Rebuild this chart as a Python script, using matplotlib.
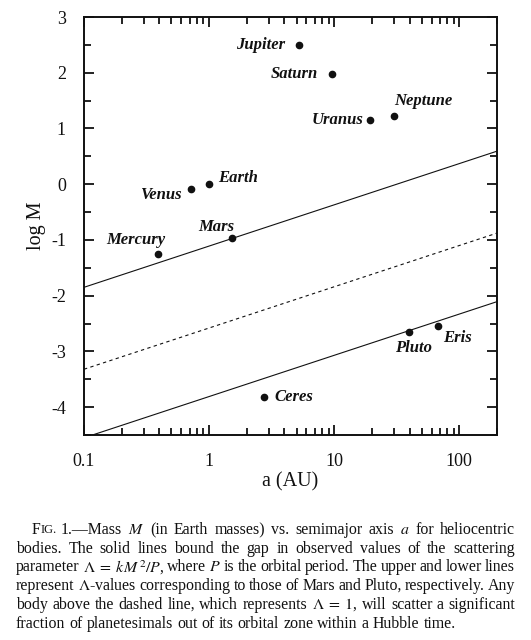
import matplotlib
matplotlib.use("Agg")
import numpy as np
from matplotlib import pyplot as plt
from matplotlib.ticker import LogLocator, MultipleLocator, NullFormatter, FixedLocator

plt.rcParams['font.family'] = ['Liberation Serif', 'DejaVu Serif']
plt.rcParams['mathtext.fontset'] = 'stix'
plt.rcParams['axes.unicode_minus'] = False

# bodies: semimajor axis (AU) and log10 of mass (Earth masses)
names = ["Mercury", "Venus", "Earth", "Mars", "Jupiter", "Saturn",
         "Uranus", "Neptune", "Ceres", "Pluto", "Eris"]
a_au = [0.387, 0.723, 1.0, 1.524, 5.20, 9.54, 19.2, 30.1, 2.77, 39.5, 67.7]
log_m = [-1.26, -0.09, 0.0, -0.97, 2.50, 1.98, 1.16, 1.23, -3.82, -2.66, -2.55]

# constant-Lambda lines, log M = c + slope*log a (upper: Mars, dashed: Lambda=1, lower: Pluto)
slope = 0.74
line_logm_1au = [-1.11, -2.58, -3.81]
line_styles = ["solid", "dashed", "solid"]

xticks = [0.1, 1, 10, 100]
xtick_labels = ["0.1", "1", "10", "100"]
yticks = [-4, -3, -2, -1, 0, 1, 2, 3]

caption_lines = [
    "1.\u2014Mass $M$ (in Earth masses) vs. semimajor axis $a$ for heliocentric",
    "bodies. The solid lines bound the gap in observed values of the scattering",
    "parameter $\\Lambda\\;=\\;kM^{\\,2}/P$, where $P$ is the orbital period. The upper and lower lines",
    "represent $\\Lambda$-values corresponding to those of Mars and Pluto, respectively. Any",
    "body above the dashed line, which represents $\\Lambda\\;=\\;1$, will scatter a significant",
    "fraction of planetesimals out of its orbital zone within a Hubble time.",
]

# label placement (pixel offsets from the dot, alignment)
label_pos = {
    "Mercury": (-22, 6, "center", "bottom"),
    "Venus":   (-10, -6, "right", "center"),
    "Earth":   (9, 6, "left", "center"),
    "Mars":    (-16, 3, "center", "bottom"),
    "Jupiter": (-14, 0, "right", "center"),
    "Saturn":  (-14, 0, "right", "center"),
    "Uranus":  (-6, 0, "right", "center"),
    "Neptune": (0, 7, "left", "bottom"),
    "Ceres":   (10, 0, "left", "center"),
    "Pluto":   (5, -8, "center", "top"),
    "Eris":    (5, -4, "left", "top"),
}

W, H = 531, 640
fig = plt.figure(figsize=(W / 100, H / 100), dpi=100)
ax = fig.add_axes([84 / W, 1 - 435 / H, 413 / W, 418 / H])

ink = "#111111"
xs = np.logspace(-1, np.log10(200), 50)
for c, st in zip(line_logm_1au, line_styles):
    ls = (0, (3, 3)) if st == "dashed" else "-"
    ax.plot(xs, c + slope * np.log10(xs), color=ink, lw=0.8, ls=ls)

ax.plot(a_au, log_m, "o", color=ink, ms=4.5, ls="none")
for n, x, y in zip(names, a_au, log_m):
    dx, dy, ha, va = label_pos[n]
    ax.annotate(n, (x, y), xytext=(dx, dy), textcoords="offset pixels",
                ha=ha, va=va, fontsize=12, fontweight="bold", style="italic",
                color=ink)

ax.set_xscale("log")
ax.set_xlim(0.1, 200)
ax.set_ylim(-4.5, 3)
ax.xaxis.set_major_locator(FixedLocator(xticks))
ax.set_xticklabels(xtick_labels)
ax.xaxis.set_minor_locator(LogLocator(base=10, subs=np.arange(2, 10)))
ax.xaxis.set_minor_formatter(NullFormatter())
ax.set_yticks(yticks)
ax.yaxis.set_minor_locator(MultipleLocator(0.5))
ax.tick_params(which="both", direction="in", top=True, right=True,
               width=1.3, colors=ink, labelsize=13, pad=13)
ax.tick_params(which="major", length=7)
ax.tick_params(which="minor", length=5)
for s in ax.spines.values():
    s.set_linewidth(1.4)
    s.set_color(ink)
ax.set_xlabel("a (AU)", fontsize=14.5, color=ink)
ax.set_ylabel("log M", fontsize=14.5, color=ink)
ax.xaxis.set_label_coords(0.5, (435 - 472) / 418)
ax.yaxis.set_label_coords((46 - 84) / 413, 0.5)

# caption, justified line by line
fig.canvas.draw()
renderer = fig.canvas.get_renderer()
cap_size = 11.4
left, right = 16, 515
y0, dy_line = 530, 18.7


def width_px(t):
    return t.get_window_extent(renderer).width


sp = fig.text(0, 0, "a a", fontsize=cap_size)
sp2 = fig.text(0, 0, "aa", fontsize=cap_size)
space_w = width_px(sp) - width_px(sp2)
sp.remove()
sp2.remove()

for i, line in enumerate(caption_lines):
    y = 1 - (y0 + i * dy_line) / H
    words = line.split()
    x_start = left
    if i == 0:
        # small caps "Fig."
        t1 = fig.text(32 / W, y, "F", fontsize=cap_size, va="center", color=ink)
        w1 = width_px(t1)
        t2 = fig.text((32 + w1) / W, y, "IG.", fontsize=cap_size * 0.78,
                      va="center", color=ink)
        x_start = 32 + w1 + width_px(t2) + space_w
    texts = [fig.text(0, y, w, fontsize=cap_size, va="center", color=ink)
             for w in words]
    widths = [width_px(t) for t in texts]
    if i < len(caption_lines) - 1:
        gap = (right - x_start - sum(widths)) / (len(words) - 1)
    else:
        gap = space_w
    x = x_start
    for t, w in zip(texts, widths):
        t.set_x(x / W)
        x += w + gap

fig.savefig("out.png", dpi=100)
